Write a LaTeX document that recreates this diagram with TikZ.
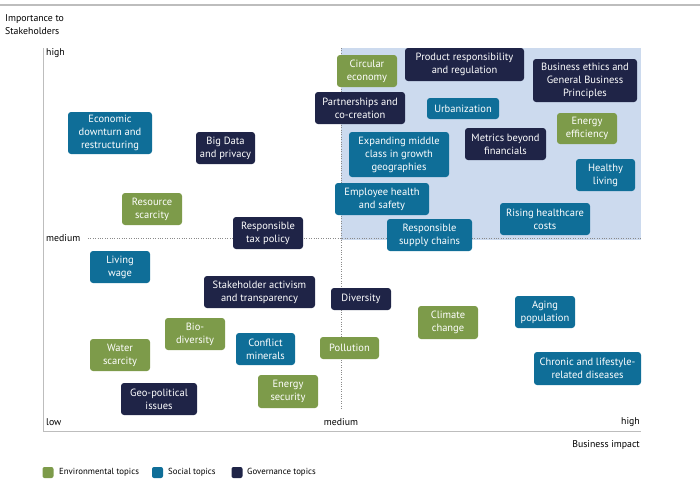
\documentclass[tikz,border=0pt]{standalone}
\usepackage{fontspec}
\setmainfont{PT Sans}
\definecolor{envgreen}{HTML}{7D9B4A}
\definecolor{socblue}{HTML}{0F6E98}
\definecolor{govnavy}{HTML}{1F2447}
\definecolor{hiblue}{HTML}{CCDAEE}
\definecolor{axisgray}{HTML}{BDBDBD}
\definecolor{dotgray}{HTML}{8A8A8A}
\tikzset{
  topic/.style={rounded corners=3pt, text=white, align=center, inner sep=0pt,
    font=\fontsize{10.5}{13}\selectfont},
  env/.style={topic, fill=envgreen},
  soc/.style={topic, fill=socblue},
  gov/.style={topic, fill=govnavy},
  axislabel/.style={inner sep=0pt, font=\fontsize{9.8}{13}\selectfont},
  legendbox/.style={rounded corners=2pt, minimum size=11pt, inner sep=0pt},
  legendtext/.style={inner sep=0pt, anchor=west, font=\fontsize{8.8}{10}\selectfont}
}
\begin{document}
\begin{tikzpicture}[x=1pt,y=-1pt]
\useasboundingbox (0,0) rectangle (700,482);
\draw [axisgray, line width=1.3pt](0,5) -- (700,5);
\coordinate (top) at (43,48);
\coordinate (origin) at (43,431);
\coordinate (right) at (641,431);
\fill [hiblue](341,48) rectangle (641,240);
\draw [axisgray, line width=1pt](top) -- (origin) -- (right);
\draw [dotgray, dotted](88,238) -- (641,238);
\draw [dotgray, dotted](341,48) -- (341,410);
% axis labels
\node[axislabel, anchor=west, align=left] (ylabel) at (5,24.5) {Importance to\\Stakeholders};
\node[axislabel, anchor=west] (yhigh) at (46,53) {high};
\node[axislabel, anchor=west] (ymed) at (46,238) {medium};
\node[axislabel, anchor=west] (xlow) at (46,422) {low};
\node[axislabel] (xmed) at (341,422) {medium};
\node[axislabel, anchor=east] (xhigh) at (640,422) {high};
\node[axislabel, anchor=east] (xlabel) at (640,445) {Business impact};
% topics
\node[soc, minimum width=84pt, minimum height=42pt] (econ) at (110,133) {Economic\\downturn and\\restructuring};
\node[gov, minimum width=59pt, minimum height=32pt] (bigdata) at (225.5,148) {Big Data\\and privacy};
\node[env, minimum width=60pt, minimum height=32pt] (resource) at (152,209) {Resource\\scarcity};
\node[gov, minimum width=70pt, minimum height=32pt] (taxpolicy) at (268,233) {Responsible\\tax policy};
\node[gov, minimum width=90pt, minimum height=32pt] (partner) at (360,108) {Partnerships and\\co-creation};
\node[env, minimum width=60pt, minimum height=32pt] (circular) at (367,71) {Circular\\economy};
\node[gov, minimum width=119pt, minimum height=33pt] (product) at (464.5,64.5) {Product responsibility\\and regulation};
\node[gov, minimum width=104pt, minimum height=43pt] (ethics) at (585,80.5) {Business ethics and\\General Business\\Principles};
\node[soc, minimum width=72pt, minimum height=21pt] (urban) at (463,108.5) {Urbanization};
\node[env, minimum width=60pt, minimum height=31pt] (energyeff) at (587,128.5) {Energy\\efficiency};
\node[soc, minimum width=100pt, minimum height=45pt] (middle) at (399,154.5) {Expanding middle\\class in growth\\geographies};
\node[gov, minimum width=81pt, minimum height=32pt] (metrics) at (505.5,144) {Metrics beyond\\financials};
\node[soc, minimum width=59pt, minimum height=32pt] (healthy) at (605.5,175) {Healthy\\living};
\node[soc, minimum width=94pt, minimum height=32pt] (employee) at (382,199) {Employee health\\and safety};
\node[soc, minimum width=90pt, minimum height=32pt] (rising) at (545,219) {Rising healthcare\\costs};
\node[soc, minimum width=85pt, minimum height=32pt] (supply) at (429.5,235) {Responsible\\supply chains};
\node[soc, minimum width=60pt, minimum height=32pt] (living) at (120,267) {Living\\wage};
\node[gov, minimum width=111pt, minimum height=32pt] (activism) at (259.5,292) {Stakeholder activism\\and transparency};
\node[env, minimum width=60pt, minimum height=32pt] (bio) at (195,334) {Bio-\\diversity};
\node[env, minimum width=60pt, minimum height=32pt] (water) at (120,355) {Water\\scarcity};
\node[soc, minimum width=59pt, minimum height=32pt] (conflict) at (265.5,349) {Conflict\\minerals};
\node[gov, minimum width=76pt, minimum height=32pt] (geo) at (159,399) {Geo-political\\issues};
\node[env, minimum width=60pt, minimum height=33pt] (energysec) at (288,391.5) {Energy\\security};
\node[gov, minimum width=60pt, minimum height=22pt] (diversity) at (361,299) {Diversity};
\node[env, minimum width=60pt, minimum height=33pt] (climate) at (448,322.5) {Climate\\change};
\node[soc, minimum width=60pt, minimum height=32pt] (aging) at (545,312) {Aging\\population};
\node[env, minimum width=59pt, minimum height=22pt] (pollution) at (349.5,348) {Pollution};
\node[soc, minimum width=107pt, minimum height=33pt] (chronic) at (587.5,368.5) {Chronic and lifestyle-\\related diseases};
% legend
\node[legendbox, fill=envgreen] (envkey) at (48,472.5) {};
\node[legendtext] (envtext) at (59,472.5) {Environmental topics};
\node[legendbox, fill=socblue] (sockey) at (157.5,472.5) {};
\node[legendtext] (soctext) at (168,472.5) {Social topics};
\node[legendbox, fill=govnavy] (govkey) at (237,472.5) {};
\node[legendtext] (govtext) at (247,472.5) {Governance topics};
\end{tikzpicture}
\end{document}
